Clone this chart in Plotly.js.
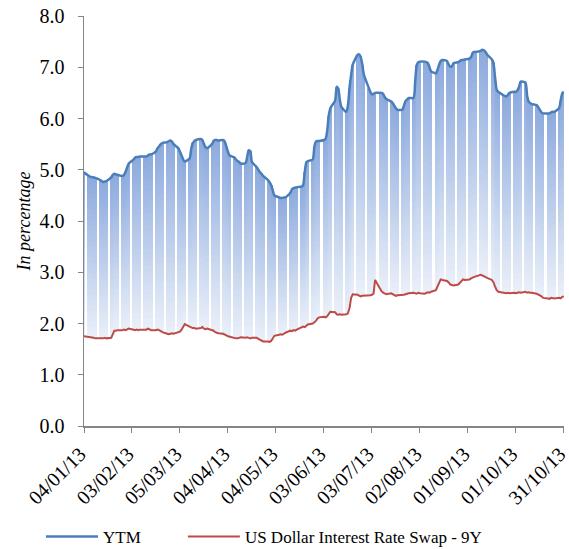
<!DOCTYPE html>
<html>
<head>
<meta charset="utf-8">
<script src="https://cdn.plot.ly/plotly-3.0.1.min.js"></script>
<style>
html,body{margin:0;padding:0;background:#fff;}
#chart{width:569px;height:549px;}
svg text{font-family:"Liberation Serif","Tinos","Times New Roman","DejaVu Serif",serif !important;}
</style>
</head>
<body>
<div id="chart"></div>
<script>
// Business days from 04/01/2013 to 31/10/2013 (one value per day, grouped by week)
var ytm = [
  4.95,
  4.88, 4.86, 4.86, 4.85, 4.84,
  4.80, 4.78, 4.76, 4.77, 4.78,
  4.85, 4.90, 4.92, 4.91, 4.90,
  4.88, 4.90, 4.96, 5.05, 5.12,
  5.20, 5.24, 5.25, 5.25, 5.26,
  5.26, 5.26, 5.28, 5.30, 5.30,
  5.36, 5.42, 5.46, 5.50, 5.52,
  5.54, 5.56, 5.57, 5.55, 5.50,
  5.42, 5.35, 5.28, 5.20, 5.16,
  5.22, 5.40, 5.52, 5.56, 5.58,
  5.60, 5.58, 5.50, 5.44, 5.42,
  5.50, 5.56, 5.58, 5.58, 5.57,
  5.58, 5.55, 5.45, 5.35, 5.28,
  5.24, 5.20, 5.17, 5.15, 5.12,
  5.13, 5.25, 5.38, 5.36, 5.15,
  5.05, 5.00, 4.95, 4.92, 4.88,
  4.80, 4.76, 4.70, 4.60, 4.50,
  4.46, 4.45, 4.45, 4.46, 4.46,
  4.55, 4.62, 4.64, 4.65, 4.66,
  4.67, 4.70, 4.95, 5.15, 5.17,
  5.20, 5.45, 5.55, 5.56, 5.56,
  5.58, 5.60, 5.75, 6.05, 6.20,
  6.35, 6.62, 6.58, 6.35, 6.22,
  6.13, 6.25, 6.60, 6.85, 7.05,
  7.24, 7.25, 7.20, 7.05, 6.85,
  6.60, 6.52, 6.47, 6.48, 6.50,
  6.50, 6.50, 6.48, 6.42, 6.38,
  6.33, 6.30, 6.25, 6.20, 6.17,
  6.17, 6.25, 6.34, 6.37, 6.40,
  6.40, 6.70, 7.04, 7.10, 7.11,
  7.11, 7.10, 7.08, 7.00, 6.92,
  6.88, 6.95, 7.05, 7.12, 7.14,
  7.12, 7.05, 7.01, 7.02, 7.08,
  7.10, 7.12, 7.14, 7.14, 7.15,
  7.17, 7.20, 7.28, 7.30, 7.30,
  7.32, 7.34, 7.33, 7.30, 7.25,
  7.15, 7.08, 6.80, 6.56, 6.52,
  6.46, 6.44, 6.43, 6.46, 6.50,
  6.52, 6.52, 6.55, 6.62, 6.72,
  6.70, 6.45, 6.33, 6.30, 6.28,
  6.26, 6.22, 6.17, 6.12, 6.10,
  6.10, 6.10, 6.12, 6.13, 6.13,
  6.20, 6.35, 6.49, 6.52
];
var swap9y = [
  1.75,
  1.74, 1.73, 1.73, 1.72, 1.71,
  1.71, 1.70, 1.71, 1.72, 1.71,
  1.72, 1.80, 1.86, 1.86, 1.87,
  1.87, 1.88, 1.87, 1.88, 1.90,
  1.88, 1.87, 1.88, 1.87, 1.88,
  1.87, 1.88, 1.90, 1.88, 1.87,
  1.87, 1.88, 1.87, 1.85, 1.83,
  1.80, 1.79, 1.80, 1.81, 1.80,
  1.82, 1.84, 1.88, 1.95, 1.99,
  1.94, 1.92, 1.91, 1.91, 1.90,
  1.91, 1.93, 1.90, 1.89, 1.90,
  1.88, 1.86, 1.83, 1.82, 1.81,
  1.80, 1.79, 1.77, 1.75, 1.74,
  1.72, 1.71, 1.71, 1.72, 1.73,
  1.72, 1.73, 1.72, 1.71, 1.72,
  1.72, 1.70, 1.68, 1.66, 1.65,
  1.65, 1.64, 1.66, 1.72, 1.76,
  1.78, 1.79, 1.78, 1.80, 1.82,
  1.86, 1.85, 1.87, 1.86, 1.88,
  1.93, 1.94, 1.93, 1.96, 1.98,
  2.00, 2.02, 2.05, 2.10, 2.12,
  2.13, 2.12, 2.14, 2.20, 2.23,
  2.22, 2.18, 2.17, 2.18, 2.17,
  2.18, 2.20, 2.30, 2.50, 2.57,
  2.56, 2.54, 2.53, 2.54, 2.54,
  2.54, 2.55, 2.56, 2.58, 2.85,
  2.68, 2.63, 2.60, 2.58, 2.57,
  2.59, 2.57, 2.55, 2.54, 2.55,
  2.55, 2.56, 2.57, 2.58, 2.59,
  2.60, 2.59, 2.58, 2.60, 2.59,
  2.58, 2.60, 2.61, 2.60, 2.62,
  2.65, 2.72, 2.82, 2.86, 2.85,
  2.83, 2.80, 2.76, 2.75, 2.74,
  2.76, 2.80, 2.84, 2.86, 2.85,
  2.86, 2.88, 2.90, 2.91, 2.92,
  2.95, 2.94, 2.92, 2.91, 2.89,
  2.85, 2.80, 2.72, 2.65, 2.62,
  2.60, 2.59, 2.59, 2.60, 2.59,
  2.60, 2.59, 2.60, 2.61, 2.60,
  2.62, 2.60, 2.61, 2.60, 2.60,
  2.58, 2.57, 2.55, 2.53, 2.50,
  2.49, 2.48, 2.50, 2.49, 2.49,
  2.50, 2.49, 2.52, 2.53
];
var tickDates = ['2013-01-04','2013-02-03','2013-03-05','2013-04-04','2013-05-04','2013-06-03',
                 '2013-07-03','2013-08-02','2013-09-01','2013-10-01','2013-10-31'];
var tickLabels = ['04/01/13','03/02/13','05/03/13','04/04/13','04/05/13','03/06/13',
                  '03/07/13','02/08/13','01/09/13','01/10/13','31/10/13'];
var yTicks = [0,1,2,3,4,5,6,7,8];
var seriesNames = ['YTM', 'US Dollar Interest Rate Swap - 9Y'];

(function(){
function pad(n){return (n<10?'0':'')+n;}
// business-day dates (categories)
var dates = [];
var d = new Date(Date.UTC(2013,0,4));
var end = new Date(Date.UTC(2013,9,31));
while (d <= end) {
  var wd = d.getUTCDay();
  if (wd !== 0 && wd !== 6) dates.push(d.getUTCFullYear()+'-'+pad(d.getUTCMonth()+1)+'-'+pad(d.getUTCDate()));
  d = new Date(d.getTime() + 86400000);
}

var FONT = '"Liberation Serif", "Times New Roman", serif';
var topC = [140,170,222], botC = [235,240,249];
var K = 30;
var traces = [];
var barW = 86400000 * 1.7;
for (var k = 0; k < K; k++) {
  var f = k / K;
  var base = [], h = [];
  for (var i = 0; i < dates.length; i++) {
    var diff = ytm[i] - swap9y[i];
    base.push(swap9y[i] + diff * f);
    h.push(diff * (1 - f));
  }
  var t = (k + 0.5) / K;
  var c = 'rgb(' + [0,1,2].map(function(j){return Math.round(botC[j] + (topC[j]-botC[j])*t);}).join(',') + ')';
  traces.push({type:'bar', x: dates, y: h, base: base, width: barW,
    marker:{color:c, line:{width:0}}, showlegend:false, hoverinfo:'skip'});
}
traces.push({type:'scatter', mode:'lines', x: dates, y: ytm, name: seriesNames[0], legend:'legend',
  line:{color:'#4a7ebb', width:2.5, shape:'spline', smoothing:0.6}});
traces.push({type:'scatter', mode:'lines', x: dates, y: swap9y, name: seriesNames[1], legend:'legend2',
  line:{color:'#be4b48', width:2}});

var legFont = {family:FONT, size:17, color:'#000'};
var layout = {
  width:569, height:549,
  margin:{l:84, r:5, t:16, b:123, autoexpand:false},
  paper_bgcolor:'#fff', plot_bgcolor:'#fff',
  barmode:'overlay', bargap:0,
  font:{family:FONT, size:18, color:'#000'},
  showlegend:true,
  legend:{orientation:'h', x:-0.0896, xanchor:'left', y:-0.2707, yanchor:'middle',
    font:legFont, itemwidth:52, bgcolor:'rgba(0,0,0,0)'},
  legend2:{orientation:'h', x:0.206, xanchor:'left', y:-0.2707, yanchor:'middle',
    font:legFont, itemwidth:52, bgcolor:'rgba(0,0,0,0)'},
  xaxis:{type:'date', range:['2013-01-04','2013-10-31 02:00'], tickvals:tickDates, ticktext:tickLabels,
    tickangle:-45, ticks:'outside', ticklen:5, tickcolor:'#868686', showline:true, linecolor:'#868686',
    linewidth:1.5, showgrid:false, zeroline:false, ticklabeloverflow:'allow', ticklabelstandoff:2,
    ticklabelshift:-4,
    tickfont:{family:FONT, size:20, color:'#000'}},
  yaxis:{range:[0,8], tickvals:yTicks, tickformat:'.1f', ticks:'outside', ticklen:5, tickcolor:'#868686',
    showline:true, linecolor:'#868686', linewidth:1.5, showgrid:false, zeroline:false,
    ticklabelstandoff:9,
    tickfont:{family:FONT, size:20, color:'#000'},
    title:{text:'In percentage', font:{family:FONT, size:18, style:'italic', color:'#000'}, standoff:4}}
};
Plotly.newPlot('chart', traces, layout, {displayModeBar:false, staticPlot:true});
})();
</script>
</body>
</html>
